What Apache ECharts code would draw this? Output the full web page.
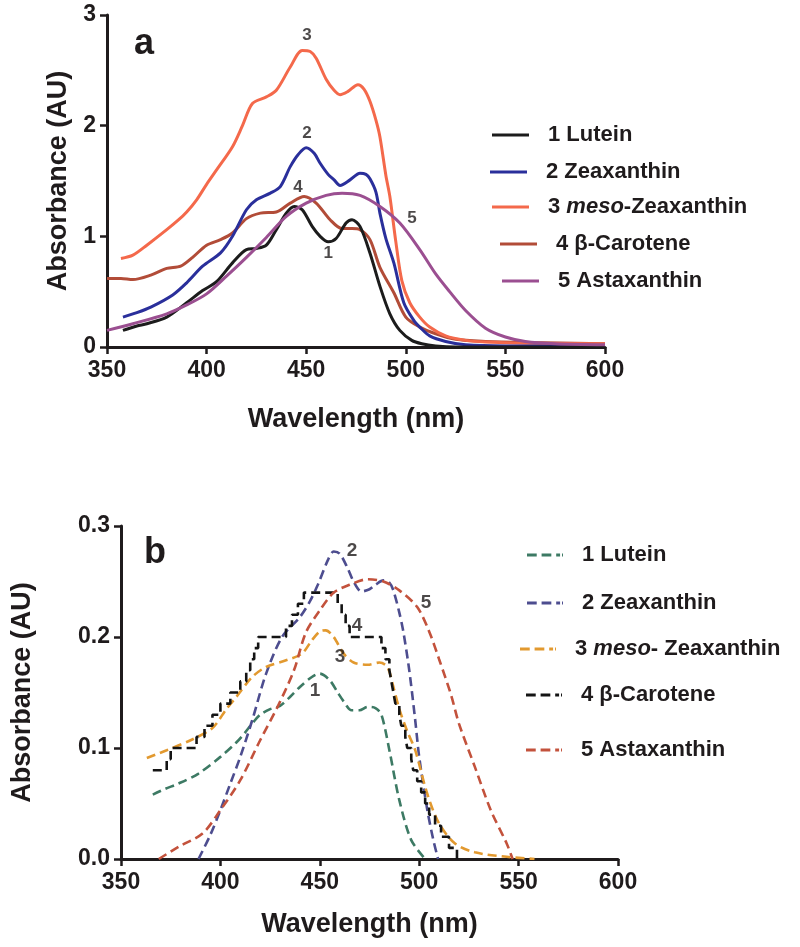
<!DOCTYPE html>
<html>
<head>
<meta charset="utf-8">
<script src="https://cdn.jsdelivr.net/npm/echarts@6/dist/echarts.min.js"></script>
<style>
html,body{margin:0;padding:0;background:#fff;}
#c{width:800px;height:947px;}
</style>
</head>
<body>
<div id="c"></div>
<script>
// ---------- Panel a data (wavelength nm, absorbance AU) ----------
const aLuteinX = [358,365,370,380,390,398,405,413,420,425,430,435,440,444,448,453,457,461,465,470,473,477,482,487,492,497,503,508,515,525,600];
const aLuteinY = [0.15,0.19,0.21,0.27,0.40,0.51,0.59,0.76,0.88,0.89,0.92,1.06,1.21,1.27,1.24,1.09,1.00,0.95,0.98,1.12,1.15,1.09,0.85,0.55,0.30,0.15,0.06,0.03,0.01,0.00,0.00];

const aZeaX = [358,365,372,383,390,398,407,413,420,425,432,437,442,446,450,454,457,461,464,467,472,477,480,482,485,487,490,494,499,504,507,512,520,530,550,600];
const aZeaY = [0.27,0.31,0.36,0.47,0.58,0.73,0.85,1.00,1.24,1.33,1.39,1.45,1.63,1.74,1.80,1.75,1.66,1.56,1.51,1.46,1.51,1.57,1.56,1.52,1.40,1.21,0.98,0.76,0.40,0.24,0.18,0.10,0.05,0.02,0.01,0.01];

const aMesoX = [357,363,370,380,386,390,395,400,405,413,418,423,430,435,442,448,452,455,460,464,467,471,476,479,482,485,487,490,492,495,498,502,507,512,520,530,540,560,600];
const aMesoY = [0.80,0.83,0.92,1.06,1.15,1.22,1.33,1.47,1.60,1.81,2.00,2.20,2.26,2.32,2.53,2.68,2.67,2.61,2.42,2.32,2.28,2.31,2.37,2.33,2.22,2.05,1.90,1.55,1.36,0.95,0.60,0.40,0.27,0.18,0.10,0.06,0.045,0.035,0.03];

const aBetaX = [350,357,363,372,380,387,393,400,407,413,420,427,435,442,449,455,462,468,473,477,482,487,494,500,507,515,525,540,560,600];
const aBetaY = [0.62,0.62,0.61,0.65,0.71,0.73,0.81,0.92,0.97,1.03,1.16,1.21,1.22,1.30,1.36,1.30,1.15,1.07,1.07,1.06,0.97,0.72,0.49,0.27,0.18,0.12,0.07,0.05,0.04,0.03];

const aAstaX = [350,363,380,390,400,410,420,430,440,450,460,468,477,487,497,507,515,522,530,540,550,560,575,600];
const aAstaY = [0.15,0.21,0.30,0.38,0.48,0.64,0.81,0.99,1.18,1.30,1.37,1.39,1.37,1.27,1.12,0.88,0.66,0.50,0.33,0.17,0.09,0.05,0.03,0.02];

// ---------- Panel b data ----------
const bLuteinX = [366,372,379,389,400,408,412,416,420,425,430,435,440,446,450,455,459,462,466,470,474,478,481,485,490,496,503];
const bLuteinY = [0.058,0.063,0.068,0.077,0.092,0.105,0.113,0.122,0.130,0.135,0.138,0.146,0.155,0.164,0.167,0.161,0.150,0.142,0.134,0.134,0.137,0.136,0.130,0.098,0.053,0.017,0.0];

const bZeaX = [389,395,400,405,410,416,423,431,440,445,449,454,457,460,464,467,471,475,478,482,485,487,490,492,495,498,500,504,507,509.5];
const bZeaY = [0.0,0.022,0.044,0.068,0.092,0.125,0.167,0.200,0.218,0.232,0.247,0.269,0.277,0.275,0.262,0.250,0.241,0.243,0.247,0.251,0.249,0.242,0.222,0.205,0.170,0.125,0.092,0.045,0.018,0.0];

const bMesoX = [363,373,385,396,403,408,416,423,433,441,446,450,453,457,462,467,474,480,484,487,490,494,498,504,510,518,528,544,558];
const bMesoY = [0.091,0.098,0.107,0.118,0.135,0.146,0.164,0.173,0.179,0.185,0.197,0.205,0.206,0.200,0.185,0.177,0.175,0.177,0.173,0.155,0.135,0.115,0.098,0.059,0.032,0.014,0.006,0.002,0.0];

const bBetaX = [366,373,375,388,392,396,400,405,410,413,415,417,419,433,436,439,442,459,461,463,465,481,483,485,486,487,488,490,491,493,494,496,497,499,501,503,505,508,511,515,519];
const bBetaY = [0.08,0.09,0.10,0.11,0.12,0.13,0.14,0.15,0.16,0.17,0.18,0.19,0.20,0.21,0.22,0.23,0.24,0.23,0.22,0.21,0.20,0.19,0.18,0.17,0.16,0.15,0.14,0.13,0.12,0.11,0.10,0.09,0.08,0.07,0.06,0.05,0.04,0.03,0.02,0.01,0.0];

const bAstaX = [369,379,391,400,410,420,429,437,443,450,457,465,474,482,490,499,505,510,516,520,528,536,544,547];
const bAstaY = [0.0,0.011,0.023,0.044,0.071,0.107,0.138,0.170,0.204,0.224,0.240,0.247,0.252,0.250,0.242,0.227,0.205,0.180,0.148,0.122,0.083,0.044,0.014,0.0];

// curve number annotations: [wavelength, absorbance, text]
const aNumbers = [[450.4,2.82,'3'],[450.4,1.93,'2'],[445.9,1.44,'4'],[461,0.85,'1'],[503.1,1.16,'5']];
const bNumbers = [[466.2,0.278,'2'],[468.7,0.210,'4'],[460.2,0.182,'3'],[447.6,0.152,'1'],[503.4,0.231,'5']];

const legendNamesA = ['1 Lutein','2 Zeaxanthin','3 {i|meso}-Zeaxanthin','4 β-Carotene','5 Astaxanthin'];
const legendNamesB = ['1 Lutein','2 Zeaxanthin','3 {i|meso}- Zeaxanthin','4 β-Carotene','5 Astaxanthin'];

const colorsA = ['#1c1c1c','#2a2f9b','#f4694b','#b24c38','#9b4f91'];
const colorsB = ['#3d7a64','#4d4d8f','#e2992f','#141414','#c3523c'];

function zip(xs, ys){ return xs.map((x,i)=>[x, ys[i]]); }

const FONT = 'Liberation Sans, Arial, Helvetica, sans-serif';
const INK = '#1f1b1c';

const seriesA = [
  [aLuteinX,aLuteinY],[aZeaX,aZeaY],[aMesoX,aMesoY],[aBetaX,aBetaY],[aAstaX,aAstaY]
];
const seriesB = [
  [bLuteinX,bLuteinY],[bZeaX,bZeaY],[bMesoX,bMesoY],[bBetaX,bBetaY],[bAstaX,bAstaY]
];

const series = [];
seriesA.forEach((s,i)=>{
  series.push({
    name:'a'+i, type:'line', xAxisIndex:0, yAxisIndex:0,
    data: zip(s[0],s[1]), symbol:'none', smooth:0.3,
    lineStyle:{color:colorsA[i], width:3}, itemStyle:{color:colorsA[i]},
    z: [5,4,3,2,6][i], silent:true
  });
});
seriesB.forEach((s,i)=>{
  const isStep = (i===3);
  series.push({
    name:'b'+i, type:'line', xAxisIndex:1, yAxisIndex:1,
    data: zip(s[0],s[1]), symbol:'none',
    smooth: isStep ? false : 0.3,
    step: isStep ? 'end' : false,
    lineStyle:{color:colorsB[i], width:2.6, type:[9,5]}, itemStyle:{color:colorsB[i]},
    silent:true
  });
});
series.push({
  type:'scatter', xAxisIndex:0, yAxisIndex:0, symbolSize:0, silent:true, z:10,
  data: aNumbers.map(d=>({value:[d[0],d[1]], label:{formatter:d[2]}})),
  label:{show:true, position:'inside', color:INK, fontFamily:FONT, fontWeight:'bold', fontSize:17}
});
series.push({
  type:'scatter', xAxisIndex:1, yAxisIndex:1, symbolSize:0, silent:true, z:10,
  data: bNumbers.map(d=>({value:[d[0],d[1]], label:{formatter:d[2]}})),
  label:{show:true, position:'inside', color:INK, fontFamily:FONT, fontWeight:'bold', fontSize:19}
});

// legends (one per row so each row can be placed like the reference)
const legPosA = [[492,135],[490,172],[492,207],[500,244],[502,281]];
const legPosB = [[527,555],[527,603],[520,649],[526,695],[526,750]];
const ICON_SOLID = 'path://M0,0h37v3h-37z';
const ICON_DASH = 'path://M0,0h10v3h-10z M15,0h10v3h-10z M30,0h4v3h-4z M36,0h1v3h-1z';
const legends = [];
function addLegend(id, label, pos, icon, w){
  legends.push({
    data:[{name:id, icon}], left:pos[0], top:pos[1]-12, padding:0, orient:'horizontal',
    itemWidth:w, itemHeight:3, selectedMode:false,
    formatter: ()=>label,
    textStyle:{
      color:INK, fontFamily:FONT, fontWeight:'bold', fontSize:22, lineHeight:24,
      padding:[0,0,0,14],
      rich:{ i:{fontStyle:'italic', fontWeight:'bold', fontFamily:FONT, fontSize:22, color:INK, lineHeight:24} }
    }
  });
}
legendNamesA.forEach((n,i)=>addLegend('a'+i, n, legPosA[i], ICON_SOLID, 37));
legendNamesB.forEach((n,i)=>addLegend('b'+i, n, legPosB[i], ICON_DASH, 36));

function xAxis(gridIndex, gap){
  return {
    type:'value', gridIndex, min:350, max:600, interval:50,
    name:'Wavelength (nm)', nameLocation:'middle', nameGap:gap,
    nameTextStyle:{color:INK, fontFamily:FONT, fontWeight:'bold', fontSize:27},
    axisLine:{show:true, onZero:false, lineStyle:{color:INK, width:3}},
    axisTick:{show:true, length:7, lineStyle:{color:INK, width:2.5}},
    axisLabel:{color:INK, fontFamily:FONT, fontWeight:'bold', fontSize:23, margin:12},
    splitLine:{show:false}
  };
}
function yAxis(gridIndex, max, interval, gap, fmt){
  return {
    type:'value', gridIndex, min:0, max, interval,
    name:'Absorbance (AU)', nameLocation:'middle', nameGap:gap,
    nameTextStyle:{color:INK, fontFamily:FONT, fontWeight:'bold', fontSize:27},
    axisLine:{show:true, onZero:false, lineStyle:{color:INK, width:3}},
    axisTick:{show:true, length:7, lineStyle:{color:INK, width:2.5}},
    axisLabel:{color:INK, fontFamily:FONT, fontWeight:'bold', fontSize:23, margin:11, formatter:fmt},
    splitLine:{show:false}
  };
}

const chart = echarts.init(document.getElementById('c'), null, {renderer:'canvas'});
chart.setOption({
  animation:false,
  backgroundColor:'#ffffff',
  grid:[
    {left:107, top:15, width:498, height:332},
    {left:121, top:526, width:497, height:333}
  ],
  xAxis:[xAxis(0,59), xAxis(1,52)],
  yAxis:[
    yAxis(0,3,1,35, v=>String(v)),
    yAxis(1,0.3,0.1,85, v=>v.toFixed(1))
  ],
  legend: legends,
  graphic:[
    {type:'text', left:134, top:26, style:{text:'a', fill:INK, font:'bold 36px '+FONT}},
    {type:'text', left:144, top:535, style:{text:'b', fill:INK, font:'bold 36px '+FONT}}
  ],
  series
});
</script>
</body>
</html>
